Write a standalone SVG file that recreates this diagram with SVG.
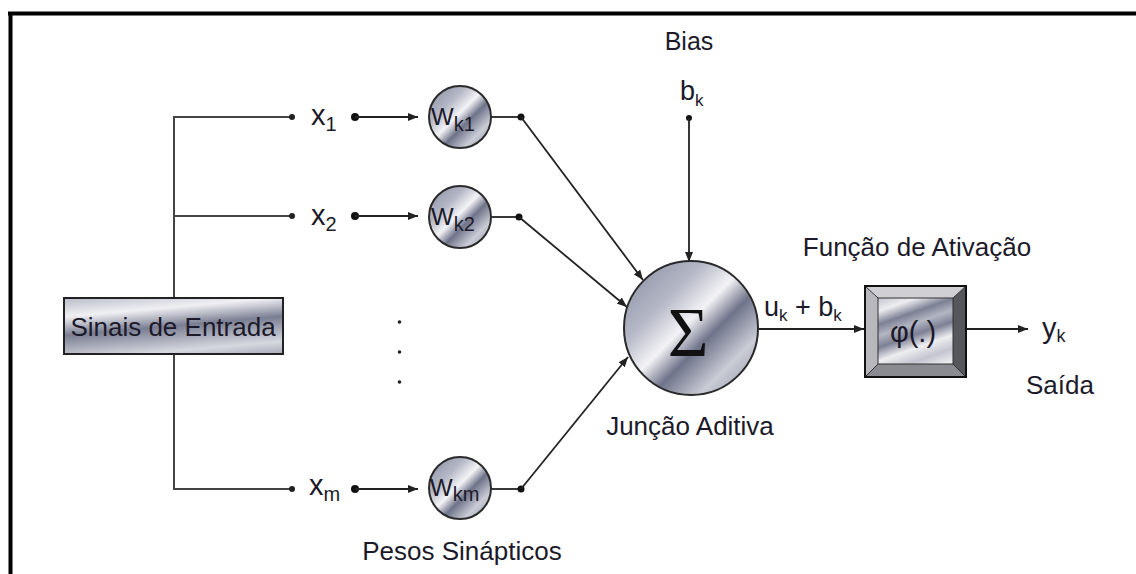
<svg xmlns="http://www.w3.org/2000/svg" width="1136" height="574" viewBox="0 0 1136 574">
<style>
.t{font-family:"Liberation Sans",Arial,sans-serif;fill:#1c1a2a}
.c{stroke:#222;stroke-width:1.8;fill:none}
.tr{stroke:#444;stroke-width:2;fill:none}
.node{stroke:#2a2a2a;stroke-width:2}
</style>
<defs>
<linearGradient id="metal" x1="0" y1="0" x2="1" y2="1">
<stop offset="0" stop-color="#858aa0"/>
<stop offset="0.3" stop-color="#b4b7c5"/>
<stop offset="0.47" stop-color="#f3f3f6"/>
<stop offset="0.6" stop-color="#6f7389"/>
<stop offset="0.78" stop-color="#c9cbd5"/>
<stop offset="1" stop-color="#8e92a6"/>
</linearGradient>
<linearGradient id="metalbox" x1="0" y1="0" x2="0.35" y2="1" spreadMethod="reflect">
<stop offset="0" stop-color="#b9bcc8"/>
<stop offset="0.3" stop-color="#f0f0f3"/>
<stop offset="0.6" stop-color="#7a7e92"/>
<stop offset="1" stop-color="#d6d8df"/>
</linearGradient>
<linearGradient id="metalbox2" x1="0" y1="0" x2="0.2" y2="0.5" spreadMethod="reflect">
<stop offset="0" stop-color="#c3c5cf"/>
<stop offset="0.35" stop-color="#eeeef1"/>
<stop offset="0.7" stop-color="#7c8094"/>
<stop offset="1" stop-color="#b3b6c3"/>
</linearGradient>
<marker id="arr" markerUnits="userSpaceOnUse" markerWidth="10" markerHeight="8" refX="10" refY="4" orient="auto">
<path d="M0,0 L10,4 L0,8 Z" fill="#222"/>
</marker>
</defs>
<rect width="1136" height="574" fill="#fff"/>
<g id="frame">
<line x1="8" y1="13.5" x2="1136" y2="13.5" stroke="#000" stroke-width="4"/>
<line x1="10.5" y1="12" x2="10.5" y2="574" stroke="#000" stroke-width="4"/>
</g>
<g id="connectors">
<line class="tr" x1="174" y1="117" x2="174" y2="489"/>
<line class="tr" x1="173" y1="117" x2="292" y2="117"/>
<line class="tr" x1="174" y1="216" x2="292" y2="216"/>
<line class="tr" x1="173" y1="489" x2="292" y2="489"/>
<circle cx="292" cy="117" r="3" fill="#222"/>
<circle cx="292" cy="216" r="3" fill="#222"/>
<circle cx="292" cy="489" r="3" fill="#222"/>
<circle cx="355" cy="117" r="4" fill="#111"/>
<circle cx="355" cy="216" r="4" fill="#111"/>
<circle cx="355" cy="489" r="4" fill="#111"/>
<line class="c" x1="355" y1="117" x2="418" y2="117" marker-end="url(#arr)"/>
<line class="c" x1="355" y1="216" x2="418" y2="216" marker-end="url(#arr)"/>
<line class="c" x1="355" y1="489" x2="418" y2="489" marker-end="url(#arr)"/>
<line class="c" x1="491" y1="117" x2="521" y2="117"/>
<line class="c" x1="491" y1="217" x2="519" y2="217"/>
<line class="c" x1="491" y1="489" x2="521" y2="489"/>
<circle cx="521" cy="117" r="3.5" fill="#111"/>
<circle cx="519" cy="217" r="3.5" fill="#111"/>
<circle cx="521" cy="489" r="3.5" fill="#111"/>
<line class="c" x1="521" y1="117" x2="643" y2="280" marker-end="url(#arr)"/>
<line class="c" x1="519" y1="217" x2="627" y2="307" marker-end="url(#arr)"/>
<line class="c" x1="521" y1="489" x2="628" y2="357" marker-end="url(#arr)"/>
<circle cx="689" cy="118" r="3" fill="#111"/>
<line class="c" x1="689" y1="118" x2="689" y2="262" marker-end="url(#arr)"/>
<line class="c" x1="758" y1="329" x2="864" y2="329" marker-end="url(#arr)"/>
<line class="c" x1="966" y1="329" x2="1028" y2="329" marker-end="url(#arr)"/>
</g>
<g id="entrada">
<rect x="64" y="298" width="219" height="56" fill="url(#metalbox)" stroke="#222" stroke-width="2"/>
<text class="t" x="173" y="336" font-size="26" text-anchor="middle">Sinais de Entrada</text>
</g>
<g id="x1"><text class="t" x="311" y="125" font-size="29">x<tspan font-size="20" dy="6">1</tspan></text></g>
<g id="x2"><text class="t" x="311" y="225" font-size="29">x<tspan font-size="20" dy="6">2</tspan></text></g>
<g id="xm"><text class="t" x="309" y="495" font-size="29">x<tspan font-size="20" dy="6">m</tspan></text></g>
<g id="dots">
<circle cx="399.5" cy="322" r="1.8" fill="#222"/>
<circle cx="399.5" cy="352" r="1.8" fill="#222"/>
<circle cx="399.5" cy="382" r="1.8" fill="#222"/>
</g>
<g id="wk1">
<circle class="node" cx="460" cy="117" r="31" fill="url(#metal)"/>
<text class="t" x="431" y="125" font-size="24">W<tspan font-size="20" dy="6">k1</tspan></text>
</g>
<g id="wk2">
<circle class="node" cx="460" cy="217" r="31" fill="url(#metal)"/>
<text class="t" x="431" y="225" font-size="24">W<tspan font-size="20" dy="6">k2</tspan></text>
</g>
<g id="wkm">
<circle class="node" cx="460" cy="488" r="31" fill="url(#metal)"/>
<text class="t" x="430" y="496" font-size="24">W<tspan font-size="20" dy="5">km</tspan></text>
</g>
<g id="bias">
<text class="t" x="689" y="50" font-size="25" text-anchor="middle">Bias</text>
<text class="t" x="680" y="100" font-size="27">b<tspan font-size="17" dy="6">k</tspan></text>
</g>
<g id="soma">
<circle class="node" cx="691" cy="328" r="67" fill="url(#metal)"/>
<text x="688" y="356" font-family="Liberation Serif,'Times New Roman',serif" font-size="70" text-anchor="middle" fill="#111">Σ</text>
<text class="t" x="690" y="435" font-size="26" text-anchor="middle">Junção Aditiva</text>
</g>
<g id="uk">
<text class="t" x="764" y="316" font-size="27">u<tspan font-size="17" dy="5">k</tspan><tspan font-size="27" dy="-5"> + b</tspan><tspan font-size="17" dy="5">k</tspan></text>
</g>
<g id="ativacao">
<text class="t" x="917" y="256" font-size="26" text-anchor="middle">Função de Ativação</text>
<polygon points="865,286 966,286 953,298 878,298" fill="#d0d0d4"/>
<polygon points="865,286 878,298 878,364 865,377" fill="#b8b8bc"/>
<polygon points="966,286 966,377 953,364 953,298" fill="#55575d"/>
<polygon points="865,377 878,364 953,364 966,377" fill="#8a8b90"/>
<rect x="878" y="298" width="75" height="66" fill="url(#metalbox2)" stroke="#333" stroke-width="1"/>
<line x1="865" y1="286" x2="878" y2="298" stroke="#333" stroke-width="1"/>
<line x1="966" y1="286" x2="953" y2="298" stroke="#333" stroke-width="1"/>
<line x1="865" y1="377" x2="878" y2="364" stroke="#333" stroke-width="1"/>
<line x1="966" y1="377" x2="953" y2="364" stroke="#333" stroke-width="1"/>
<rect x="865" y="286" width="101" height="91" fill="none" stroke="#111" stroke-width="2"/>
<text class="t" x="913" y="342" font-size="29" text-anchor="middle">φ(.)</text>
</g>
<g id="saida">
<text class="t" x="1042" y="338" font-size="29">y<tspan font-size="18" dy="4">k</tspan></text>
<text class="t" x="1060" y="394" font-size="26" text-anchor="middle">Saída</text>
</g>
<g id="pesos">
<text class="t" x="462" y="560" font-size="26" text-anchor="middle">Pesos Sinápticos</text>
</g>
</svg>
